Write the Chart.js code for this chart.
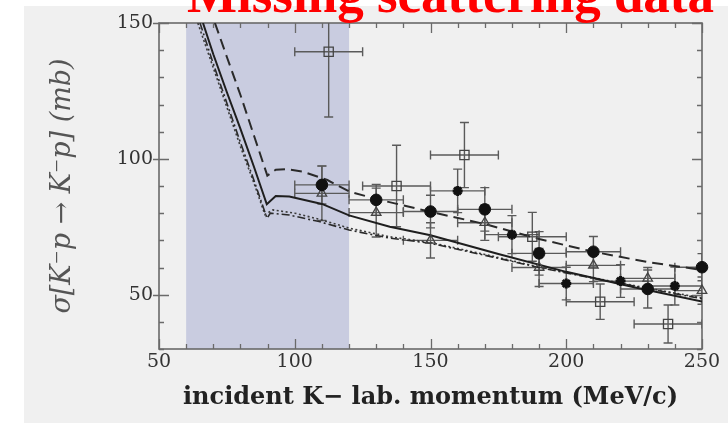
<!DOCTYPE html>
<html>
<head>
<meta charset="utf-8">
<script src="https://cdn.jsdelivr.net/npm/chart.js@4.4.1/dist/chart.umd.min.js"></script>
<style>
  html, body { margin: 0; padding: 0; background: #ffffff; width: 728px; height: 423px; overflow: hidden; }
  #panel { position: absolute; left: 24px; top: 6px; width: 704px; height: 417px; background: #f0f0f0; }
  #wrap { position: absolute; left: 0; top: 0; width: 728px; height: 423px; }
  #headline { position: absolute; left: 187px; top: -32px; font: bold 53px "Liberation Serif", serif;
              line-height: 1; color: #ff0000; white-space: nowrap; }
</style>
</head>
<body>
<div id="panel"></div>
<div id="wrap"><canvas id="c" width="728" height="423"></canvas></div>
<div id="headline">Missing scattering data</div>
<script>
// Axis ticks and the shaded low-momentum window
const xTicks = [50, 100, 150, 200, 250];
const yTicks = [50, 100, 150];
const minorStep = 10;
const shadedRange = [60, 120];

// Measured K- p elastic cross sections (mb) with errors
const circX    = [110, 130, 150, 170, 190, 210, 230, 250];
const circY    = [90.4, 84.9, 80.6, 81.4, 65.2, 65.8, 52.1, 60.1];
const circXErr = [10, 10, 10, 10, 10, 10, 10, 10];
const circYErr = [7, 5.7, 6, 8, 8, 5.6, 7, 5];

const triX    = [110, 130, 150, 170, 190, 210, 230, 250];
const triY    = [87.3, 80.2, 70, 76.5, 60, 60.8, 56, 51.5];
const triXErr = [10, 10, 10, 10, 10, 10, 10, 10];
const triYErr = [10, 9, 6.5, 6.5, 7, 6, 4, 5];

const starX    = [160, 180, 200, 220, 240];
const starY    = [88.2, 72.1, 54.1, 55, 53.2];
const starXErr = [10, 10, 10, 10, 10];
const starYErr = [8, 7, 6, 6, 7];

const sqX    = [112.5, 137.5, 162.5, 187.5, 212.5, 237.5];
const sqY    = [139.4, 90, 101.4, 71.3, 47.4, 39.2];
const sqXErr = [12.5, 12.5, 12.5, 12.5, 12.5, 12.5];
const sqYErr = [24, 15, 12, 9, 6.5, 7];

// Model curves
const dashedX = [70.6, 75, 80, 85, 89.9, 93, 97, 103, 112, 120, 130, 150, 170, 190, 210, 230, 250];
const dashedY = [150, 137.5, 123.5, 108.5, 93.8, 96, 96.2, 95.3, 92.2, 88, 85.2, 80.5, 76, 70.5, 65.8, 62, 59.1];

const solidX = [66.2, 70, 75, 80, 85, 89.7, 93, 98, 110, 120, 135, 150, 175, 200, 225, 250];
const solidY = [150, 138.5, 124.5, 111, 97, 83.3, 86.3, 86.1, 83.4, 79.2, 75, 71.9, 65, 58.4, 52.7, 47.5];

const dashDotX = [65.1, 70, 75, 80, 85, 89.8, 91, 98, 109, 120, 135, 150, 170, 190, 210, 230, 250];
const dashDotY = [150, 135, 120.5, 106, 92, 78.1, 80, 79.3, 76.9, 73.8, 70.8, 68.9, 64.5, 60, 56, 52.2, 48.5];

const dottedX = [64.3, 70, 75, 80, 85, 89, 92, 100, 110, 120, 135, 150, 170, 190, 210, 230, 250];
const dottedY = [150, 133.5, 119, 104.5, 91, 79.5, 81.2, 80, 77.5, 74.5, 71.3, 69.2, 64.8, 60.2, 56.2, 52.4, 48.8];

const pts = (xs, ys) => xs.map((x, i) => ({ x: x, y: ys[i] }));

// Shaded momentum window behind everything
const bandPlugin = {
  id: 'band',
  beforeDatasetsDraw(chart) {
    const { ctx, chartArea: a, scales: { x } } = chart;
    const x0 = x.getPixelForValue(shadedRange[0]);
    const x1 = x.getPixelForValue(shadedRange[1]);
    ctx.save();
    ctx.fillStyle = '#c9cce0';
    ctx.fillRect(x0, a.top, x1 - x0, a.bottom - a.top);
    ctx.restore();
  }
};

// Boxed frame with inward ticks on all four sides
const framePlugin = {
  id: 'frame',
  beforeDatasetsDraw(chart) {
    const { ctx, chartArea: a, scales: { x, y } } = chart;
    ctx.save();
    ctx.strokeStyle = '#6a6a6a';
    ctx.lineWidth = 1.6;
    ctx.strokeRect(a.left, a.top, a.right - a.left, a.bottom - a.top);
    ctx.lineWidth = 1.3;
    ctx.beginPath();
    for (let v = x.min; v <= x.max; v += minorStep) {
      const px = Math.round(x.getPixelForValue(v)) + 0.5;
      const L = xTicks.includes(v) ? 10 : 5;
      ctx.moveTo(px, a.bottom); ctx.lineTo(px, a.bottom - L);
      ctx.moveTo(px, a.top); ctx.lineTo(px, a.top + L);
    }
    for (let v = y.min; v <= y.max; v += minorStep) {
      const py = Math.round(y.getPixelForValue(v)) + 0.5;
      const major = yTicks.includes(v);
      const L = major ? 10 : 5;
      ctx.moveTo(a.left - (major ? 6 : 0), py); ctx.lineTo(a.left + L, py);
      ctx.moveTo(a.right, py); ctx.lineTo(a.right - L, py);
    }
    ctx.stroke();
    ctx.restore();
  }
};

// Horizontal and vertical error bars with end caps
const errorBarPlugin = {
  id: 'errorBars',
  beforeDatasetsDraw(chart) {
    const { ctx, chartArea: a, scales: { x, y } } = chart;
    ctx.save();
    ctx.beginPath();
    ctx.rect(a.left, a.top, a.right - a.left, a.bottom - a.top);
    ctx.clip();
    ctx.strokeStyle = '#5a5a5a';
    ctx.lineWidth = 1.4;
    const c = 4.5;
    chart.data.datasets.forEach(ds => {
      if (!ds.errX) return;
      ds.data.forEach((p, i) => {
        const px = x.getPixelForValue(p.x), py = y.getPixelForValue(p.y);
        const x0 = x.getPixelForValue(p.x - ds.errX[i]), x1 = x.getPixelForValue(p.x + ds.errX[i]);
        const y0 = y.getPixelForValue(p.y - ds.errY[i]), y1 = y.getPixelForValue(p.y + ds.errY[i]);
        ctx.beginPath();
        ctx.moveTo(x0, py); ctx.lineTo(x1, py);
        ctx.moveTo(x0, py - c); ctx.lineTo(x0, py + c);
        ctx.moveTo(x1, py - c); ctx.lineTo(x1, py + c);
        ctx.moveTo(px, y0); ctx.lineTo(px, y1);
        ctx.moveTo(px - c, y0); ctx.lineTo(px + c, y0);
        ctx.moveTo(px - c, y1); ctx.lineTo(px + c, y1);
        ctx.stroke();
      });
    });
    ctx.restore();
  }
};

const markerSet = (data, errX, errY, style, radius, fill, border, bw) => ({
  type: 'scatter', data: data, errX: errX, errY: errY,
  pointStyle: style, pointRadius: radius, pointBackgroundColor: fill,
  pointBorderColor: border, pointBorderWidth: bw, showLine: false, clip: false
});

const curveSet = (data, dash, width, color) => ({
  type: 'line', data: data, borderColor: color, borderWidth: width, borderDash: dash,
  pointRadius: 0, tension: 0, fill: false
});

new Chart(document.getElementById('c'), {
  type: 'scatter',
  data: {
    datasets: [
      markerSet(pts(circX, circY), circXErr, circYErr, 'circle', 5.8, '#111', '#111', 1),
      markerSet(pts(starX, starY), starXErr, starYErr, 'star', 5, '#111', '#111', 3),
      markerSet(pts(triX, triY), triXErr, triYErr, 'triangle', 5.5, 'rgba(0,0,0,0)', '#444', 1.3),
      markerSet(pts(sqX, sqY), sqXErr, sqYErr, 'rect', 6.5, 'rgba(0,0,0,0)', '#444', 1.3),
      curveSet(pts(dashedX, dashedY), [11, 6], 2, '#2a2a2a'),
      curveSet(pts(solidX, solidY), [], 2, '#1e1e1e'),
      curveSet(pts(dashDotX, dashDotY), [8, 3, 2, 3], 1.6, '#2a2a2a'),
      curveSet(pts(dottedX, dottedY), [2, 2.5], 1.6, '#3a3a3a')
    ]
  },
  options: {
    responsive: false,
    animation: false,
    devicePixelRatio: 1,
    layout: { padding: { left: 0, top: 23, right: 26, bottom: 0 } },
    plugins: { legend: { display: false }, tooltip: { enabled: false } },
    scales: {
      x: {
        type: 'linear', min: 50, max: 250,
        afterBuildTicks: s => { s.ticks = xTicks.map(v => ({ value: v })); },
        afterFit: s => { s.height = 74; },
        grid: { display: false, drawTicks: false },
        border: { display: false },
        ticks: { font: { family: 'DejaVu Serif', size: 19 }, color: '#333', padding: 2, maxRotation: 0, autoSkip: false },
        title: { display: true, text: 'incident K\u2212 lab. momentum (MeV/c)',
                 font: { family: 'DejaVu Serif', size: 24, weight: 'bold' }, color: '#222',
                 padding: { top: 0, bottom: 11 } }
      },
      y: {
        type: 'linear', min: 30, max: 150,
        afterBuildTicks: s => { s.ticks = yTicks.map(v => ({ value: v })); },
        afterFit: s => { s.width = 159; },
        grid: { display: false, drawTicks: false },
        border: { display: false },
        ticks: { font: { family: 'DejaVu Serif', size: 19 }, color: '#333', padding: 6 },
        title: { display: true, text: '\u03c3[K\u207bp \u2192 K\u207bp] (mb)',
                 font: { family: 'DejaVu Serif', size: 27, style: 'italic' }, color: '#555',
                 padding: { top: 47, bottom: 0 } }
      }
    }
  },
  plugins: [bandPlugin, framePlugin, errorBarPlugin]
});
</script>
</body>
</html>
